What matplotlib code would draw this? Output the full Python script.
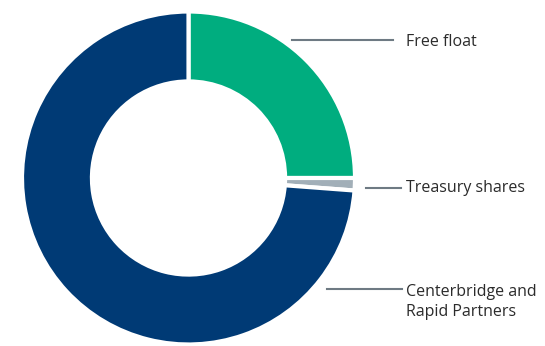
import matplotlib.pyplot as plt

# shareholder structure
labels = ['Free float', 'Treasury shares', 'Centerbridge and\nRapid Partners']
shares = [25.0, 1.2, 73.8]
colors = ['#00ad7f', '#a2afb8', '#003a75']

fig = plt.figure(figsize=(5.45, 3.46), dpi=100)
ax = fig.add_axes([0, 0, 1, 1])

cx, cy, r = 188.5, 346 - 178, 166.5
ax.pie(shares, colors=colors, startangle=90, counterclock=False,
       center=(cx, cy), radius=r, frame=True,
       wedgeprops=dict(width=r * 0.42, edgecolor='white', linewidth=3))
ax.set_xlim(0, 545)
ax.set_ylim(0, 346)
ax.set_aspect('equal')
ax.axis('off')

# leader lines and labels (pixel coords, y from top)
lines = [(292, 393, 40), (366, 401, 188), (327, 402, 289)]
text_y = [42, 188, 302]
for (x0, x1, y), lab, ty in zip(lines, labels, text_y):
    ax.plot([x0, x1], [346 - y, 346 - y], color='#6e7a83', linewidth=1.5)
    ax.text(406, 346 - ty, lab, ha='left', va='center', fontsize=11.5,
            color='#2b2b2b', family='Open Sans', linespacing=1.4)

fig.savefig('out.png', dpi=100)
